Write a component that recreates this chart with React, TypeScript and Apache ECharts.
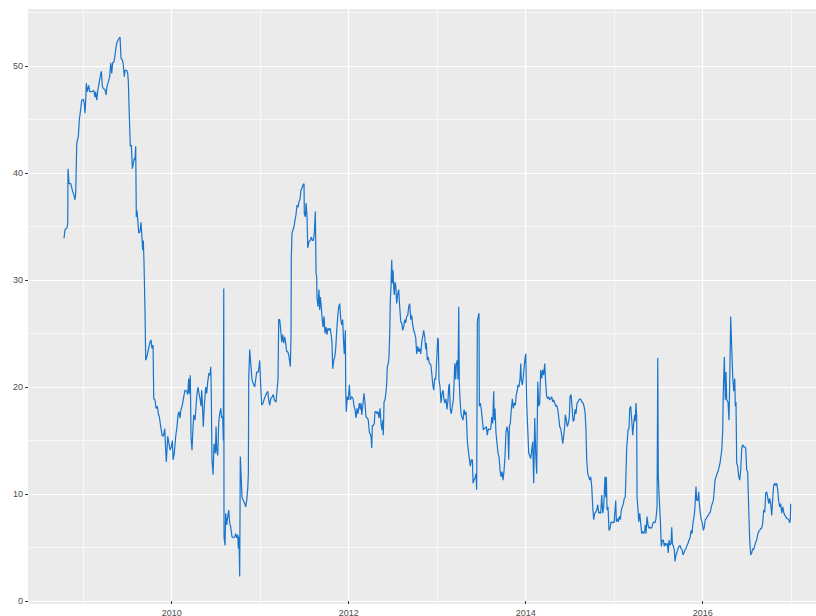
import React, { useEffect, useRef } from "react";
import * as echarts from "echarts";

// x positions as decimal years
const dates: number[] = [
  2008.783,2008.794,2008.817,2008.825,2008.828,2008.840,2008.859,2008.877,2008.896,2008.907,
  2008.915,2008.927,2008.938,2008.945,2008.956,2008.972,2008.983,2009.001,2009.012,2009.020,
  2009.028,2009.035,2009.046,2009.062,2009.073,2009.096,2009.119,2009.133,2009.141,2009.153,
  2009.164,2009.179,2009.198,2009.205,2009.216,2009.227,2009.246,2009.258,2009.269,2009.284,
  2009.299,2009.311,2009.322,2009.333,2009.348,2009.359,2009.371,2009.385,2009.405,2009.416,
  2009.427,2009.442,2009.453,2009.464,2009.472,2009.492,2009.503,2009.510,2009.521,2009.532,
  2009.544,2009.555,2009.566,2009.577,2009.585,2009.593,2009.600,2009.608,2009.616,2009.627,
  2009.642,2009.653,2009.672,2009.679,2009.687,2009.690,2009.698,2009.706,2009.718,2009.736,
  2009.755,2009.766,2009.777,2009.789,2009.797,2009.811,2009.823,2009.837,2009.849,2009.860,
  2009.876,2009.890,2009.905,2009.921,2009.932,2009.939,2009.955,2009.969,2009.981,2009.995,
  2010.007,2010.015,2010.029,2010.045,2010.060,2010.071,2010.082,2010.094,2010.105,2010.120,
  2010.136,2010.150,2010.169,2010.181,2010.192,2010.199,2010.210,2010.218,2010.229,2010.241,
  2010.249,2010.263,2010.275,2010.286,2010.297,2010.308,2010.320,2010.331,2010.339,2010.346,
  2010.357,2010.368,2010.384,2010.395,2010.407,2010.421,2010.433,2010.441,2010.447,2010.455,
  2010.467,2010.478,2010.493,2010.501,2010.508,2010.520,2010.531,2010.542,2010.554,2010.565,
  2010.576,2010.583,2010.588,2010.591,2010.602,2010.610,2010.621,2010.633,2010.644,2010.655,
  2010.667,2010.681,2010.696,2010.712,2010.723,2010.734,2010.746,2010.753,2010.760,2010.768,
  2010.775,2010.783,2010.794,2010.809,2010.825,2010.836,2010.847,2010.859,2010.866,2010.870,
  2010.881,2010.893,2010.907,2010.922,2010.938,2010.960,2010.979,2010.994,2011.006,2011.017,
  2011.032,2011.046,2011.066,2011.085,2011.096,2011.107,2011.119,2011.137,2011.148,2011.159,
  2011.179,2011.190,2011.201,2011.209,2011.220,2011.232,2011.243,2011.254,2011.266,2011.277,
  2011.288,2011.299,2011.311,2011.322,2011.333,2011.340,2011.348,2011.351,2011.359,2011.371,
  2011.382,2011.393,2011.404,2011.416,2011.427,2011.438,2011.450,2011.461,2011.472,2011.484,
  2011.495,2011.498,2011.510,2011.518,2011.529,2011.537,2011.551,2011.566,2011.577,2011.589,
  2011.600,2011.611,2011.623,2011.631,2011.638,2011.642,2011.653,2011.664,2011.672,2011.679,
  2011.687,2011.698,2011.710,2011.721,2011.732,2011.744,2011.755,2011.766,2011.777,2011.789,
  2011.800,2011.811,2011.819,2011.831,2011.842,2011.853,2011.864,2011.876,2011.887,2011.898,
  2011.910,2011.921,2011.932,2011.939,2011.950,2011.962,2011.966,2011.973,2011.984,2011.995,
  2012.007,2012.018,2012.034,2012.049,2012.060,2012.071,2012.082,2012.094,2012.105,2012.120,
  2012.131,2012.139,2012.147,2012.162,2012.173,2012.184,2012.195,2012.210,2012.221,2012.233,
  2012.252,2012.260,2012.267,2012.278,2012.289,2012.297,2012.308,2012.320,2012.331,2012.342,
  2012.354,2012.365,2012.376,2012.384,2012.391,2012.399,2012.410,2012.422,2012.429,2012.436,
  2012.447,2012.455,2012.463,2012.470,2012.478,2012.486,2012.493,2012.501,2012.508,2012.515,
  2012.523,2012.531,2012.542,2012.554,2012.565,2012.576,2012.588,2012.599,2012.610,2012.621,
  2012.633,2012.644,2012.655,2012.667,2012.678,2012.689,2012.701,2012.712,2012.723,2012.734,
  2012.746,2012.757,2012.768,2012.780,2012.791,2012.802,2012.814,2012.825,2012.836,2012.847,
  2012.859,2012.870,2012.877,2012.888,2012.899,2012.911,2012.927,2012.938,2012.949,2012.960,
  2012.972,2012.983,2012.994,2013.006,2013.012,2013.020,2013.032,2013.043,2013.054,2013.066,
  2013.077,2013.088,2013.099,2013.111,2013.122,2013.130,2013.137,2013.148,2013.159,2013.171,
  2013.182,2013.190,2013.198,2013.209,2013.216,2013.227,2013.235,2013.243,2013.250,2013.258,
  2013.269,2013.280,2013.292,2013.303,2013.314,2013.325,2013.333,2013.340,2013.351,2013.363,
  2013.374,2013.385,2013.397,2013.405,2013.416,2013.427,2013.438,2013.446,2013.453,2013.464,
  2013.472,2013.476,2013.487,2013.498,2013.510,2013.521,2013.532,2013.555,2013.566,2013.577,
  2013.593,2013.605,2013.616,2013.627,2013.638,2013.645,2013.653,2013.664,2013.676,2013.687,
  2013.698,2013.710,2013.721,2013.732,2013.744,2013.755,2013.766,2013.777,2013.789,2013.800,
  2013.808,2013.815,2013.826,2013.837,2013.849,2013.860,2013.871,2013.883,2013.894,2013.905,
  2013.913,2013.924,2013.936,2013.944,2013.950,2013.962,2013.973,2013.981,2013.989,2014.000,
  2014.011,2014.023,2014.034,2014.045,2014.056,2014.068,2014.079,2014.090,2014.102,2014.113,
  2014.124,2014.136,2014.147,2014.158,2014.169,2014.181,2014.192,2014.203,2014.215,2014.226,
  2014.237,2014.249,2014.260,2014.271,2014.282,2014.294,2014.305,2014.316,2014.328,2014.339,
  2014.350,2014.362,2014.373,2014.384,2014.395,2014.407,2014.418,2014.429,2014.441,2014.447,
  2014.459,2014.470,2014.481,2014.493,2014.501,2014.512,2014.523,2014.535,2014.546,2014.557,
  2014.568,2014.580,2014.591,2014.602,2014.614,2014.625,2014.636,2014.647,2014.659,2014.670,
  2014.681,2014.689,2014.701,2014.712,2014.723,2014.734,2014.746,2014.757,2014.768,2014.780,
  2014.791,2014.802,2014.814,2014.825,2014.836,2014.847,2014.859,2014.870,2014.881,2014.896,
  2014.904,2014.911,2014.919,2014.930,2014.941,2014.953,2014.964,2014.975,2014.986,2014.998,
  2015.009,2015.017,2015.024,2015.035,2015.046,2015.058,2015.069,2015.080,2015.092,2015.103,
  2015.114,2015.125,2015.133,2015.141,2015.148,2015.156,2015.167,2015.175,2015.186,2015.198,
  2015.209,2015.220,2015.232,2015.238,2015.246,2015.254,2015.258,2015.269,2015.277,2015.288,
  2015.299,2015.311,2015.322,2015.333,2015.345,2015.351,2015.359,2015.371,2015.382,2015.393,
  2015.405,2015.416,2015.427,2015.438,2015.450,2015.461,2015.472,2015.484,2015.492,2015.498,
  2015.510,2015.521,2015.532,2015.544,2015.555,2015.566,2015.577,2015.589,2015.600,2015.611,
  2015.619,2015.631,2015.642,2015.650,2015.657,2015.668,2015.679,2015.687,2015.698,2015.710,
  2015.721,2015.732,2015.744,2015.755,2015.766,2015.777,2015.789,2015.800,2015.811,2015.823,
  2015.834,2015.845,2015.857,2015.868,2015.879,2015.890,2015.902,2015.910,2015.916,2015.924,
  2015.932,2015.944,2015.955,2015.962,2015.973,2015.984,2015.995,2016.007,2016.018,2016.029,
  2016.041,2016.052,2016.063,2016.075,2016.086,2016.097,2016.108,2016.120,2016.131,2016.139,
  2016.158,2016.176,2016.196,2016.215,2016.226,2016.233,2016.244,2016.255,2016.263,2016.271,
  2016.286,2016.297,2016.305,2016.316,2016.328,2016.339,2016.350,2016.362,2016.368,2016.376,
  2016.384,2016.395,2016.407,2016.418,2016.429,2016.441,2016.452,2016.463,2016.475,2016.486,
  2016.497,2016.508,2016.520,2016.531,2016.542,2016.554,2016.565,2016.576,2016.588,2016.599,
  2016.610,2016.621,2016.633,2016.644,2016.655,2016.667,2016.678,2016.689,2016.701,2016.712,
  2016.723,2016.734,2016.746,2016.757,2016.768,2016.780,2016.791,2016.802,2016.814,2016.825,
  2016.836,2016.847,2016.859,2016.870,2016.881,2016.893,2016.904,2016.915,2016.927,2016.938,
  2016.949,2016.960,2016.972,2016.983,2016.990,2016.994,2017.001,
];

const values: number[] = [
  33.9,34.7,34.9,35.3,40.4,39.0,39.0,38.4,37.9,37.5,
  38.1,42.8,43.2,43.4,45.0,46.0,46.8,46.9,46.5,45.6,
  46.8,48.4,47.6,48.2,47.6,47.6,47.7,47.1,47.6,46.8,
  47.7,48.4,49.3,49.5,48.1,47.9,47.8,47.3,48.1,48.5,
  49.0,50.3,49.3,50.3,50.4,51.0,51.8,52.3,52.6,52.7,
  50.7,50.6,50.1,49.0,49.6,49.6,49.3,48.5,45.3,42.5,
  42.6,40.4,40.9,41.4,41.2,42.5,35.9,36.5,35.6,34.4,
  34.5,35.4,32.8,33.7,31.6,30.3,27.2,22.5,22.8,23.5,
  24.2,24.4,23.6,23.9,18.9,18.8,18.0,18.2,17.5,17.2,
  16.3,15.5,15.4,16.1,14.1,13.0,15.4,14.7,14.1,14.4,
  15.0,13.2,13.8,15.4,16.3,17.4,17.7,17.1,17.9,18.3,
  19.1,19.7,19.6,19.3,20.8,19.4,21.1,15.4,14.1,16.3,
  17.4,16.9,18.2,19.4,20.0,19.4,18.9,18.2,19.7,18.5,
  16.3,18.2,20.0,19.4,20.5,21.3,21.1,21.9,19.4,13.2,
  11.8,14.7,13.8,16.3,14.1,13.6,16.6,17.5,18.0,17.1,
  17.2,15.0,29.2,6.0,5.2,8.2,7.1,7.9,8.5,7.3,
  6.9,6.0,5.9,6.0,6.3,5.9,6.2,4.9,6.0,2.3,
  13.5,11.9,9.7,9.4,9.1,8.8,9.4,10.5,11.9,20.7,
  23.5,22.2,20.7,20.3,20.0,21.4,21.4,22.5,20.0,18.3,
  18.5,18.9,19.3,19.6,18.8,18.3,18.9,19.1,19.3,18.8,
  18.6,19.7,20.7,26.3,26.3,25.3,24.2,24.9,24.1,24.7,
  24.1,23.3,23.3,23.0,22.4,21.9,24.7,32.0,34.4,34.7,
  35.0,35.6,36.1,37.0,36.8,37.3,37.6,38.4,38.6,38.9,
  39.0,36.2,35.9,37.2,35.9,33.0,33.6,33.7,34.0,33.7,
  33.7,34.4,36.4,30.6,30.3,28.3,27.5,29.1,27.2,28.4,
  27.8,26.6,25.6,26.6,25.0,25.6,24.9,25.5,25.3,25.5,
  25.0,24.1,21.7,22.5,22.8,23.6,25.2,26.6,27.5,27.8,
  26.3,25.8,26.3,24.7,23.1,25.3,19.7,17.7,19.1,18.8,
  20.2,18.8,19.1,18.9,18.2,17.9,17.1,18.0,17.5,18.5,
  17.9,18.5,17.4,18.5,19.4,18.5,17.2,17.1,16.9,15.8,
  15.4,14.3,16.4,16.4,16.6,17.7,17.7,17.5,17.7,17.1,
  18.0,16.6,16.0,16.9,15.5,18.6,18.8,19.6,20.3,21.9,
  22.2,22.8,25.0,28.1,29.4,31.9,29.7,30.9,29.4,28.6,
  29.8,29.5,27.8,28.7,29.1,27.5,26.1,26.0,25.3,25.6,
  26.3,26.0,26.6,26.7,27.5,27.8,26.3,26.7,25.8,25.3,
  25.0,24.6,23.1,23.8,23.3,23.6,23.1,24.2,24.7,25.3,
  24.7,23.5,24.1,22.5,22.8,22.2,22.1,21.3,20.3,19.7,
  20.8,20.7,22.5,24.6,24.4,20.7,20.0,18.5,19.4,19.7,
  18.8,18.5,18.9,17.9,18.8,20.0,20.3,17.9,17.5,18.2,
  18.8,20.3,22.2,20.7,22.2,22.5,20.7,27.5,20.3,18.8,
  17.5,17.2,16.9,17.9,17.4,17.7,16.6,15.0,14.1,13.3,
  12.6,13.2,13.2,11.0,11.3,11.5,11.9,10.4,26.1,26.6,
  26.9,18.2,18.5,17.9,16.9,16.0,16.1,16.3,15.5,16.1,
  16.0,16.1,17.2,16.6,19.6,16.9,18.0,15.7,14.7,13.8,
  13.5,12.2,11.6,12.1,11.3,12.2,13.5,15.8,16.3,15.7,
  13.2,16.3,16.6,17.9,18.9,18.0,18.5,18.3,19.3,19.7,
  20.2,20.0,20.8,22.2,20.7,20.2,21.0,21.7,22.5,23.1,
  18.5,16.0,13.8,13.6,13.3,14.1,14.9,11.0,17.1,13.8,
  11.9,20.5,18.2,18.5,21.6,20.8,21.6,21.1,22.2,20.3,
  19.1,18.9,19.1,18.8,18.9,19.1,18.6,18.8,18.5,18.2,
  18.3,17.9,17.2,16.3,16.1,15.5,14.7,15.4,16.4,17.4,
  16.9,16.3,16.6,17.2,19.1,19.3,18.2,16.8,16.9,17.9,
  17.5,18.5,18.6,18.8,18.9,18.8,18.6,18.5,18.2,17.7,
  16.0,13.2,11.9,11.6,11.3,11.6,10.7,8.8,7.6,8.2,
  8.3,8.5,9.0,8.2,8.3,8.2,9.9,8.2,8.8,11.6,
  9.7,11.6,8.5,8.8,6.6,6.8,7.4,7.3,7.4,7.3,
  8.5,9.4,7.4,7.7,7.4,7.9,7.6,8.5,8.8,9.1,
  9.6,9.7,11.9,14.4,15.0,16.0,16.1,18.0,18.2,16.9,
  15.5,16.6,17.4,16.8,18.5,17.2,9.7,8.5,7.4,8.2,
  7.3,6.3,6.5,6.3,6.6,7.1,6.3,7.9,7.1,6.8,
  6.9,6.8,6.9,7.3,7.4,7.3,7.7,8.8,22.7,11.6,
  9.4,7.6,5.1,5.7,5.7,5.1,5.4,5.2,5.4,4.5,
  5.7,5.2,5.4,6.9,5.4,5.1,4.8,3.7,4.3,4.6,
  4.9,5.1,5.2,4.9,4.8,4.3,4.5,4.8,4.9,5.2,
  5.4,5.7,5.9,6.6,6.3,7.3,7.9,8.5,9.4,10.7,
  9.4,9.4,10.2,9.1,8.2,7.6,7.3,6.6,6.9,7.6,
  7.7,7.9,8.0,8.2,8.3,8.8,9.1,9.4,10.4,11.3,
  11.8,12.2,12.9,14.1,16.0,19.7,22.8,18.8,21.4,18.8,
  18.6,16.9,20.3,26.6,23.5,21.0,19.6,20.8,18.2,18.6,
  12.9,12.6,11.6,11.3,12.2,14.3,14.6,14.4,14.4,14.3,
  12.2,12.1,8.5,5.7,4.3,4.5,4.9,4.8,5.2,5.5,
  5.7,6.2,6.5,6.6,6.8,6.8,7.3,8.5,8.3,10.1,
  10.2,9.7,9.1,9.6,9.1,8.0,9.6,10.8,11.0,10.8,
  11.0,10.4,9.3,8.8,9.1,8.2,8.8,8.3,8.0,7.9,
  7.7,7.7,7.6,7.3,7.6,9.1,9.1,
];

const xTicks = [2010, 2012, 2014, 2016];
const yTicks = [0, 10, 20, 30, 40, 50];
const xRange = [2008.376, 2017.28];
const yRange = [-0.28, 55.33];

const FONT = "'Liberation Sans', Arial, Helvetica, sans-serif";

export default function App() {
  const ref = useRef<HTMLDivElement>(null);
  useEffect(() => {
    if (!ref.current) return;
    const chart = echarts.init(ref.current, null, { renderer: "svg" });
    const n = Math.min(dates.length, values.length);
    const data: [number, number][] = [];
    for (let i = 0; i < n; i++) data.push([dates[i], values[i]]);
    chart.setOption({
      animation: false,
      backgroundColor: "#FFFFFF",
      grid: {
        left: 28,
        right: 0,
        top: 9,
        bottom: 12,
        show: true,
        backgroundColor: "#EBEBEB",
        borderWidth: 0,
        containLabel: false,
        outerBoundsMode: "none",
      },
      xAxis: {
        type: "value",
        min: xRange[0],
        max: xRange[1],
        axisLine: { show: false },
        axisTick: {
          show: true,
          length: 3,
          customValues: xTicks,
          lineStyle: { color: "#333333", width: 1 },
        },
        axisLabel: {
          customValues: xTicks,
          formatter: (v: number) => String(v),
          color: "#4D4D4D",
          fontSize: 9,
          fontFamily: FONT,
          margin: 4,
        },
        splitLine: { show: true, lineStyle: { color: "#FFFFFF", width: 1.2 } },
        minorTick: { show: false, splitNumber: 2 },
        minorSplitLine: { show: true, lineStyle: { color: "#FFFFFF", width: 0.6 } },
      },
      yAxis: {
        type: "value",
        min: yRange[0],
        max: yRange[1],
        axisLine: { show: false },
        axisTick: {
          show: true,
          length: 3,
          customValues: yTicks,
          lineStyle: { color: "#333333", width: 1 },
        },
        axisLabel: {
          customValues: yTicks,
          formatter: (v: number) => String(v),
          color: "#4D4D4D",
          fontSize: 9,
          fontFamily: FONT,
          margin: 5,
        },
        splitLine: { show: true, lineStyle: { color: "#FFFFFF", width: 1.2 } },
        minorTick: { show: false, splitNumber: 2 },
        minorSplitLine: { show: true, lineStyle: { color: "#FFFFFF", width: 0.6 } },
      },
      series: [
        {
          type: "line",
          data,
          showSymbol: false,
          symbol: "none",
          clip: true,
          z: 3,
          lineStyle: { color: "#1874CD", width: 1.2 },
          itemStyle: { color: "#1874CD" },
        },
      ],
    });
    return () => chart.dispose();
  }, []);
  return (
    <div
      ref={ref}
      style={{ position: "fixed", left: 0, top: 0, width: 816, height: 616 }}
    />
  );
}
